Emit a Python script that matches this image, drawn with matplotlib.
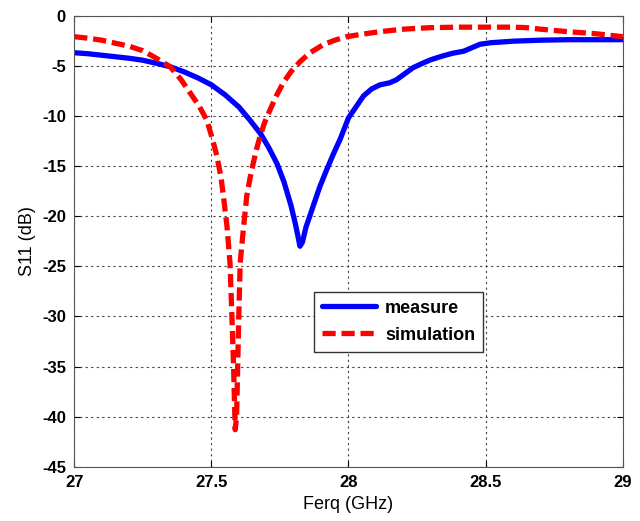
import matplotlib.pyplot as plt
import numpy as np

# measured S11 (blue)
f_meas = [27.0, 27.05, 27.1, 27.15, 27.2, 27.25, 27.3, 27.35, 27.4, 27.45, 27.5,
          27.55, 27.6, 27.64, 27.68, 27.71, 27.74, 27.765, 27.79, 27.805, 27.815,
          27.823, 27.832, 27.845, 27.87, 27.895, 27.92, 27.945, 27.97, 28.0, 28.03,
          28.055, 28.085, 28.115, 28.15, 28.175, 28.2, 28.235, 28.27, 28.3, 28.34,
          28.38, 28.42, 28.45, 28.48, 28.52, 28.6, 28.7, 28.8, 28.9, 29.0]
s11_meas = [-3.7, -3.8, -3.95, -4.1, -4.25, -4.45, -4.75, -5.1, -5.6, -6.2, -6.9,
            -7.9, -9.1, -10.4, -11.8, -13.2, -14.8, -16.6, -18.9, -20.6, -21.9,
            -23.0, -22.6, -21.1, -19.1, -17.1, -15.4, -13.8, -12.3, -10.2, -9.0,
            -8.0, -7.3, -6.9, -6.7, -6.4, -5.9, -5.2, -4.75, -4.4, -4.05,
            -3.75, -3.55, -3.2, -2.85, -2.7, -2.55, -2.45, -2.4, -2.4, -2.4]

# simulated S11 (red dashed)
f_sim = [27.0, 27.05, 27.1, 27.15, 27.2, 27.25, 27.29, 27.32, 27.35, 27.39, 27.42,
         27.455, 27.483, 27.505, 27.52, 27.535, 27.544, 27.557, 27.568, 27.575,
         27.581, 27.587, 27.592, 27.596, 27.6, 27.605, 27.617, 27.629, 27.641,
         27.653, 27.665, 27.678, 27.695, 27.714, 27.737, 27.762, 27.79, 27.823,
         27.86, 27.908, 27.95, 27.993, 28.05, 28.115, 28.2, 28.297, 28.4, 28.5,
         28.6, 28.65, 28.7, 28.8, 28.9, 29.0]
s11_sim = [-2.1, -2.25, -2.45, -2.75, -3.05, -3.5, -4.1, -4.6, -5.1, -6.4, -7.6,
           -9.0, -10.4, -12.4, -14.0, -16.1, -18.0, -21.0, -24.7, -30.0,
           -35.0, -41.3, -40.0, -35.0, -30.0, -24.7, -21.2, -18.0, -16.2,
           -14.7, -13.3, -12.0, -10.6, -9.4, -8.0, -6.7, -5.6, -4.6,
           -3.7, -2.9, -2.45, -2.1, -1.85, -1.6, -1.35, -1.2, -1.15, -1.15,
           -1.15, -1.2, -1.35, -1.6, -1.8, -2.1]

plt.rcParams['font.family'] = ['Liberation Sans', 'DejaVu Sans']
plt.rcParams['axes.unicode_minus'] = False

fig = plt.figure(figsize=(6.4, 5.21), dpi=100)
ax = fig.add_axes([0.116, 0.104, 0.857, 0.866])

ax.plot(f_meas, s11_meas, color='#0000ff', lw=3.8, label='measure',
        solid_capstyle='round', solid_joinstyle='round')
ax.plot(f_sim, s11_sim, color='#ff0000', lw=3.8, ls=(0, (2.5, 1.1)), label='simulation',
        dash_joinstyle='round')

ax.set_xlim(27, 29)
ax.set_ylim(-45, 0)
ax.set_xticks([27, 27.5, 28, 28.5, 29])
ax.set_xticklabels(['27', '27.5', '28', '28.5', '29'])
ax.set_yticks(np.arange(-45, 1, 5))
ax.grid(True, ls=(0, (2, 3)), color='#444444', lw=0.8)
ax.tick_params(direction='in', top=True, right=True, labelsize=12, length=4, pad=6)
for lab in ax.get_xticklabels() + ax.get_yticklabels():
    lab.set_fontweight('bold')
for sp in ax.spines.values():
    sp.set_color('#555555')

ax.set_xlabel('Ferq (GHz)', fontsize=13)
ax.set_ylabel('S11 (dB)', fontsize=13)

leg = ax.legend(loc='lower left', bbox_to_anchor=(0.437, 0.255), fontsize=13,
                fancybox=False, edgecolor='#333333', framealpha=1,
                handlelength=3.0, handletextpad=0.5, borderpad=0.45,
                labelspacing=0.55, borderaxespad=0)
for t in leg.get_texts():
    t.set_fontweight('bold')

fig.savefig('out.png', dpi=100)
